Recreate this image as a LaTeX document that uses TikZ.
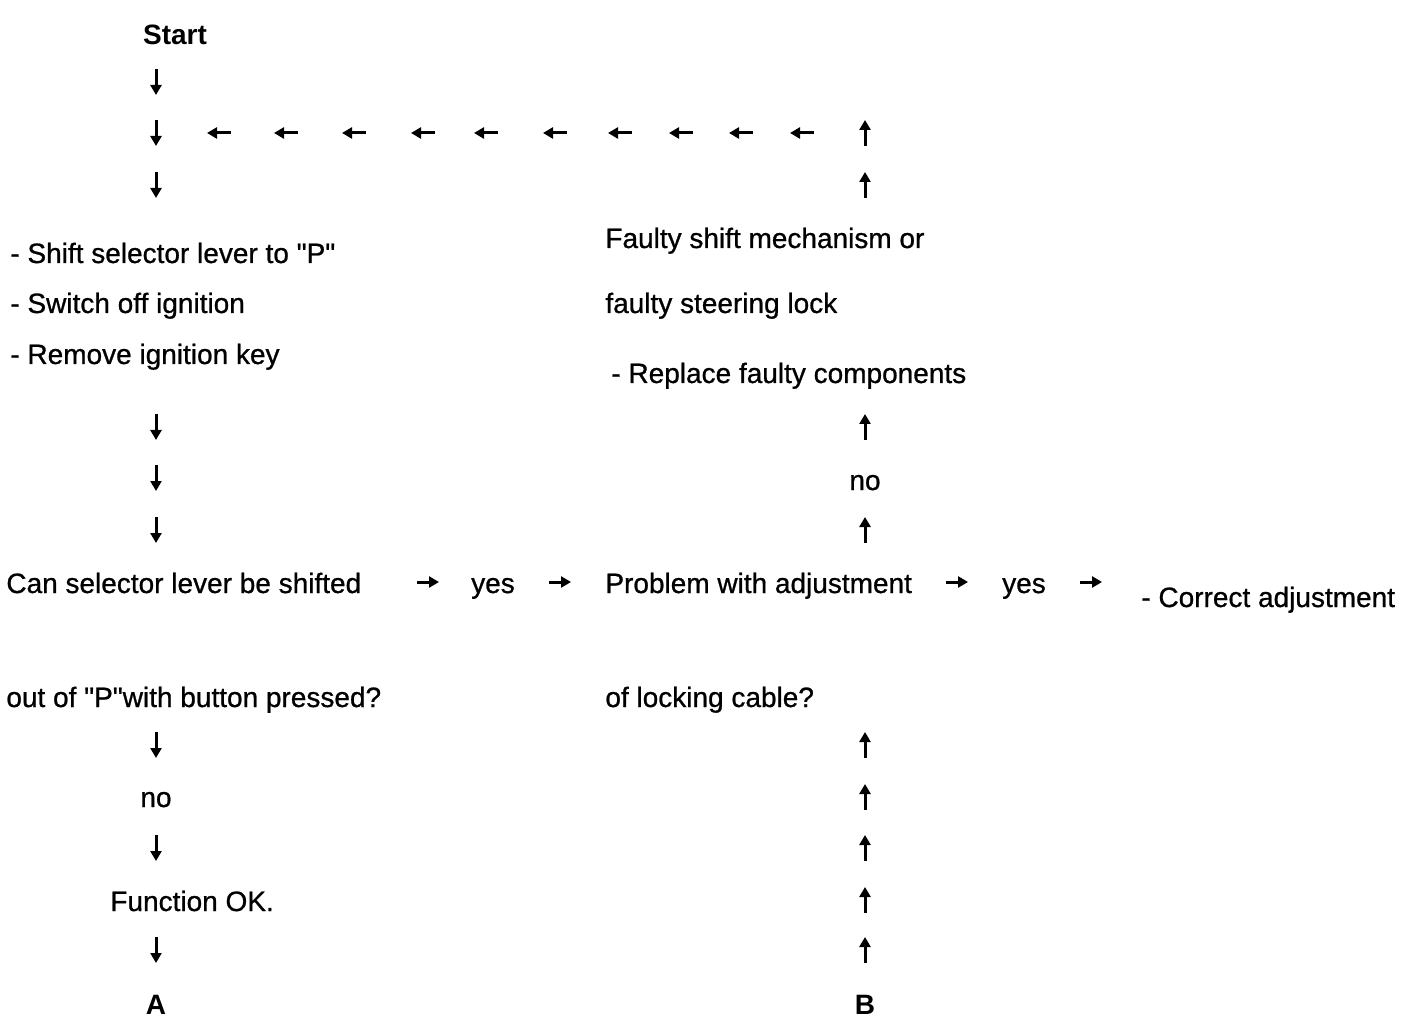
\documentclass[tikz,border=0pt]{standalone}
\usepackage{fontspec}
\setmainfont{Liberation Sans}
\newfontfamily\heavyfont[FakeBold=0.8]{Liberation Sans}
\usetikzlibrary{arrows.meta}
\begin{document}
\begin{tikzpicture}[x=0.5pt,y=-0.5pt,
  txt/.style={anchor=base west,inner sep=0pt,font=\heavyfont\fontsize{14}{16}\selectfont},
  ctxt/.style={anchor=base,inner sep=0pt,font=\heavyfont\fontsize{14}{16}\selectfont},
  btxt/.style={anchor=base,inner sep=0pt,font=\fontsize{14}{16}\selectfont\bfseries},
  arr/.style={line width=1.5pt,-{Triangle[length=5pt,width=5.5pt]}}]
\useasboundingbox (0,0) rectangle (1408,1026);
% texts
\node[btxt] (start) at (175,45) {Start};
\node[txt] (s1) at (10,263) {- Shift selector lever to \symbol{34}P\symbol{34}};
\node[txt] (s2) at (10,313) {- Switch off ignition};
\node[txt] (s3) at (10,364) {- Remove ignition key};
\node[txt] (f1) at (605,248) {Faulty shift mechanism or};
\node[txt] (f2) at (605,313) {faulty steering lock};
\node[txt] (f3) at (611,383) {- Replace faulty components};
\node[ctxt] (no1) at (865,490) {no};
\node[txt] (q1) at (6,593) {Can selector lever be shifted};
\node[ctxt] (yes1) at (493,593) {yes};
\node[txt] (p1) at (605,593) {Problem with adjustment};
\node[ctxt] (yes2) at (1024,593) {yes};
\node[txt] (c1) at (1141,607) {- Correct adjustment};
\node[txt] (q2) at (6,707) {out of \symbol{34}P\symbol{34}with button pressed?};
\node[txt] (p2) at (605,707) {of locking cable?};
\node[ctxt] (no2) at (156,807) {no};
\node[txt] (ok) at (110,911) {Function OK.};
\node[btxt] (A) at (156,1014) {A};
\node[btxt] (B) at (865,1014) {B};
% down arrows
\foreach \c in {82,133,185,427,478,530,745,848,950}
  \draw[arr] (156,\c-13) -- (156,\c+13);
% up arrows
\foreach \c in {133,185,427,530,745,797,848,900,950}
  \draw[arr] (865,\c+13) -- (865,\c-13);
% left arrows
\foreach \c in {219,286,354,423,486,555,620,681,741,802}
  \draw[arr] (\c+12,133) -- (\c-12,133);
% right arrows
\foreach \c in {428,560,957,1091}
  \draw[arr] (\c-11,582) -- (\c+11,582);
\end{tikzpicture}
\end{document}
